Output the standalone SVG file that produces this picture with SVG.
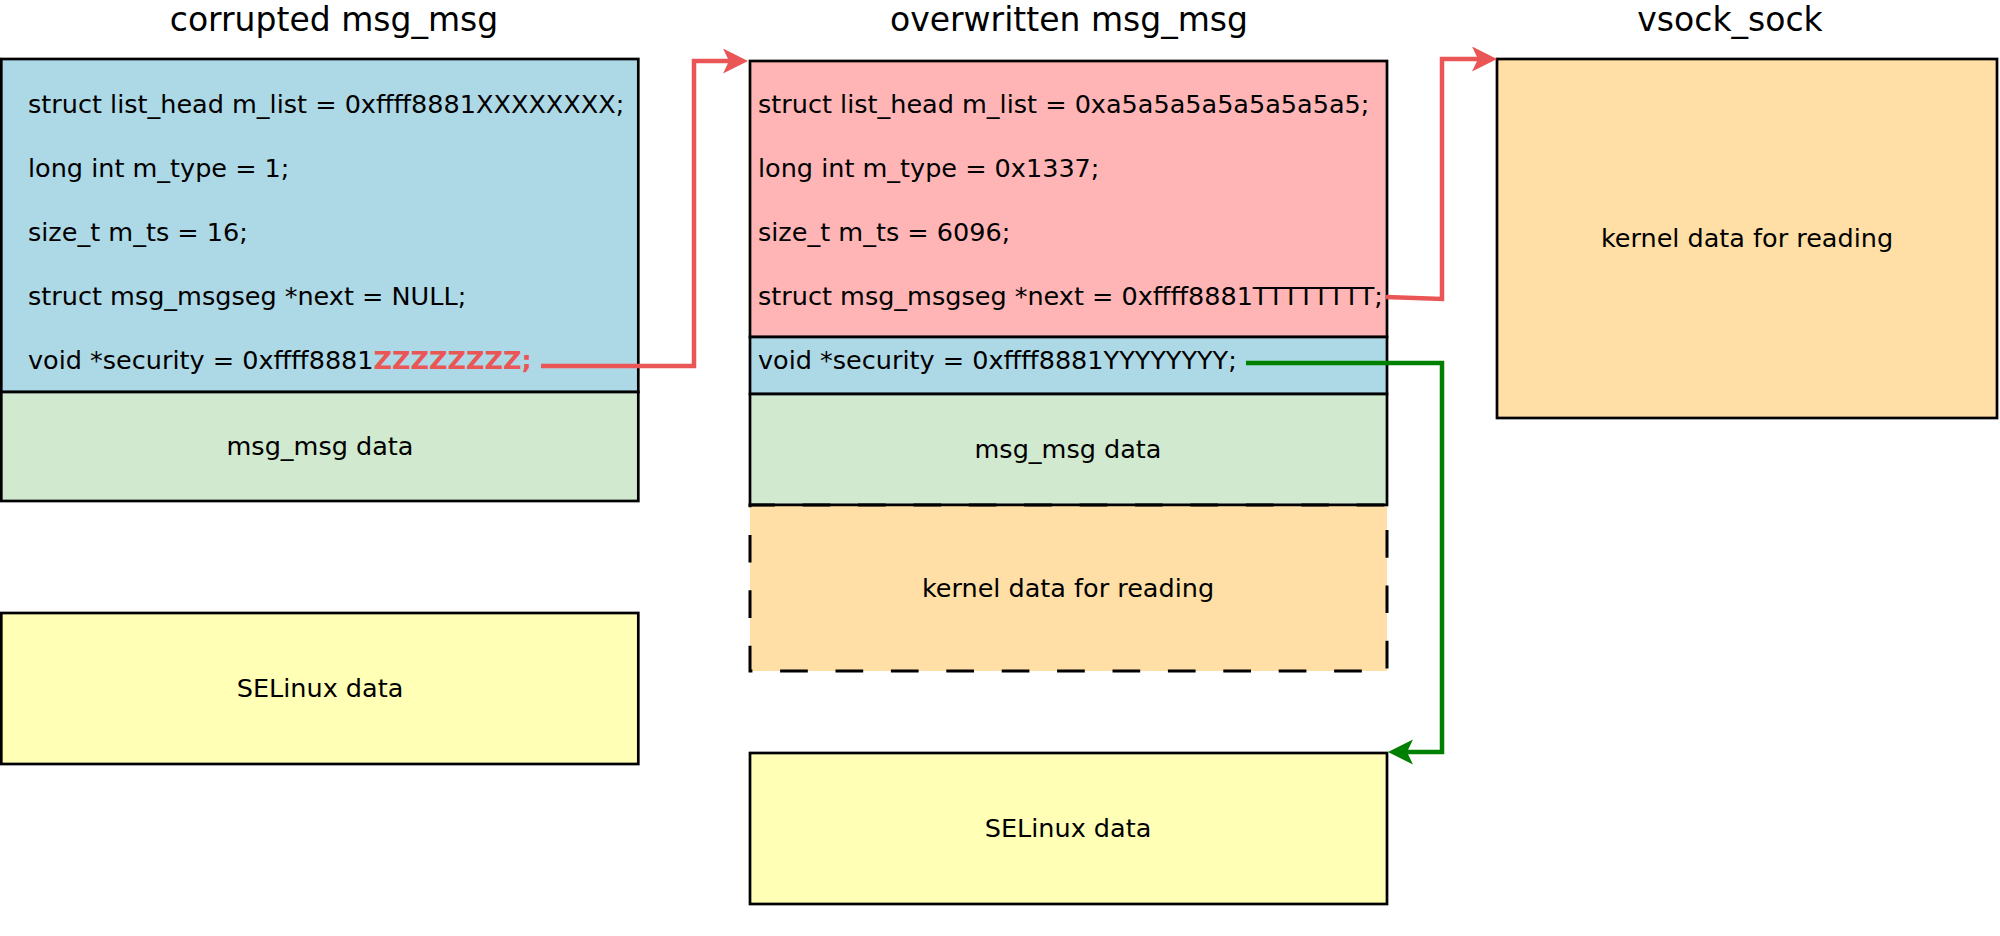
<svg xmlns="http://www.w3.org/2000/svg" width="2000" height="936" viewBox="0 0 2000 936">
<style>
text{font-family:"DejaVu Sans","Liberation Sans",sans-serif;fill:#000}
.t{font-size:25.5px}
.c{font-size:25.5px;text-anchor:middle}
.h{font-size:33px;text-anchor:middle}
.z{font-weight:bold;fill:#ea5555}
.b{stroke:#000;stroke-width:2.7}
.blue{fill:#add8e6}.pink{fill:#ffb5b5}.grn{fill:#d0e9cf}.org{fill:#ffdfa5}.yel{fill:#ffffb5}
.red{fill:none;stroke:#ea5555;stroke-width:4.5;stroke-linejoin:miter}
.gl{fill:none;stroke:#008000;stroke-width:4.5;stroke-linejoin:miter}
</style>
<defs>
<marker id="ar" markerUnits="userSpaceOnUse" markerWidth="26" markerHeight="26" viewBox="0 0 26 26" refX="6" refY="12.5" orient="auto">
<path d="M0,0 L25,12.5 L0,25 L6,12.5 Z" fill="#ea5555"/>
</marker>
<marker id="ag" markerUnits="userSpaceOnUse" markerWidth="26" markerHeight="26" viewBox="0 0 26 26" refX="6" refY="12.5" orient="auto">
<path d="M0,0 L25,12.5 L0,25 L6,12.5 Z" fill="#008000"/>
</marker>
</defs>
<rect width="2000" height="936" fill="#fff"/>
<g id="titles">
<text class="h" x="334" y="31">corrupted msg_msg</text>
<text class="h" x="1069" y="31">overwritten msg_msg</text>
<text class="h" x="1730" y="31">vsock_sock</text>
</g>
<g id="corrupted-header">
<rect class="b blue" x="1.3" y="59" width="637" height="333"/>
<text class="t" x="28" y="113">struct list_head m_list = 0xffff8881XXXXXXXX;</text>
<text class="t" x="28" y="177">long int m_type = 1;</text>
<text class="t" x="28" y="241">size_t m_ts = 16;</text>
<text class="t" x="28" y="305">struct msg_msgseg *next = NULL;</text>
<text class="t" x="28" y="369">void *security = 0xffff8881<tspan class="z">ZZZZZZZZ;</tspan></text>
</g>
<g id="corrupted-data">
<rect class="b grn" x="1.3" y="392" width="637" height="109"/>
<text class="c" x="320" y="455">msg_msg data</text>
</g>
<g id="corrupted-selinux">
<rect class="b yel" x="1.3" y="613" width="637" height="151"/>
<text class="c" x="320" y="697">SELinux data</text>
</g>
<g id="overwritten-header">
<rect class="b pink" x="750" y="61" width="637" height="276"/>
<text class="t" x="758" y="113">struct list_head m_list = 0xa5a5a5a5a5a5a5a5;</text>
<text class="t" x="758" y="177">long int m_type = 0x1337;</text>
<text class="t" x="758" y="241">size_t m_ts = 6096;</text>
<text class="t" x="758" y="305">struct msg_msgseg *next = 0xffff8881TTTTTTTT;</text>
</g>
<g id="overwritten-security">
<rect class="b blue" x="750" y="337" width="637" height="57"/>
<text class="t" x="758" y="369">void *security = 0xffff8881YYYYYYYY;</text>
</g>
<g id="overwritten-data">
<rect class="b grn" x="750" y="394" width="637" height="111"/>
<text class="c" x="1068" y="458">msg_msg data</text>
</g>
<g id="overwritten-kernel">
<rect x="750" y="505" width="637" height="166" class="org" stroke="#000" stroke-width="3" stroke-dasharray="27.7 27.7" stroke-dashoffset="2.8"/>
<line x1="750" y1="505" x2="1387" y2="505" class="b"/>
<text class="c" x="1068" y="597">kernel data for reading</text>
</g>
<g id="overwritten-selinux">
<rect class="b yel" x="750" y="753" width="637" height="151"/>
<text class="c" x="1068" y="837">SELinux data</text>
</g>
<g id="vsock-sock">
<rect class="b org" x="1497" y="59" width="500" height="359"/>
<text class="c" x="1747" y="247">kernel data for reading</text>
</g>
<g id="connectors">
<path class="red" d="M541 366 L694 366 L694 61 L729 61" marker-end="url(#ar)"/>
<path class="red" d="M1386 297 L1442 299 L1442 59 L1478 59" marker-end="url(#ar)"/>
<path class="gl" d="M1246 363 L1442 363 L1442 752 L1407 752" marker-end="url(#ag)"/>
</g>
</svg>
